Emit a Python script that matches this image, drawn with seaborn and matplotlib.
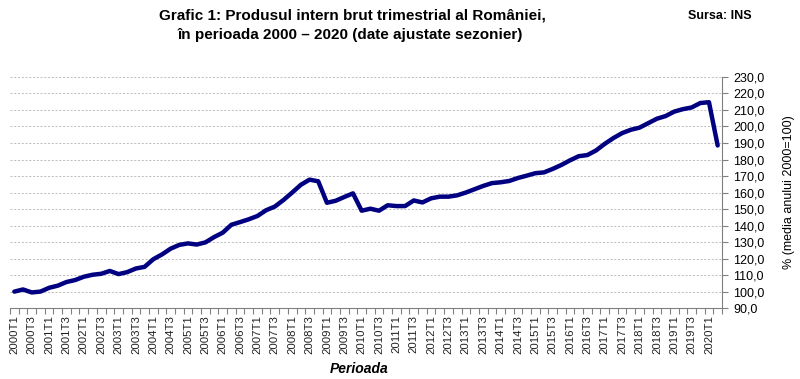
import numpy as np
import pandas as pd
import seaborn as sns
import matplotlib.pyplot as plt
from matplotlib.ticker import FuncFormatter, MultipleLocator, FixedLocator

# Quarterly GDP, seasonally adjusted (% of the 2000 average)
years = list(range(2000, 2021))
quarters = [f"{y}T{q}" for y in years for q in range(1, 5)][:82]
pib = [100.0, 101.3, 99.5, 100.0,
       102.3, 103.6, 105.8, 107.0,
       109.0, 110.2, 110.8, 112.5,
       110.6, 111.8, 114.0, 115.0,
       119.6, 122.5, 126.0, 128.3,
       129.2, 128.5, 129.8, 133.0,
       135.7, 140.5, 142.1, 143.8,
       145.8, 149.3, 151.5, 155.5,
       160.0, 164.7, 167.8, 166.8,
       153.8, 155.0, 157.3, 159.5,
       149.0, 150.2, 149.0, 152.3,
       151.8, 151.8, 155.2, 154.0,
       156.5, 157.5, 157.5, 158.3,
       160.0, 162.0, 164.0, 165.7,
       166.2, 167.0, 168.8, 170.2,
       171.7, 172.2, 174.3, 176.7,
       179.5, 182.0, 182.7, 185.5,
       189.5, 193.0, 196.0, 198.0,
       199.3, 202.0, 204.7, 206.3,
       209.0, 210.5, 211.5, 214.2,
       214.7, 188.5]

df = pd.DataFrame({"pos": np.arange(len(quarters)), "trimestru": quarters, "pib": pib})

sns.set_style("white")
plt.rcParams['font.family'] = ['Liberation Sans', 'DejaVu Sans']
plt.rcParams['text.color'] = 'black'
plt.rcParams['axes.labelcolor'] = 'black'
plt.rcParams['ytick.labelcolor'] = 'black'

fig = plt.figure(figsize=(8, 3.79), dpi=100)
ax = fig.add_axes([0.0125, 0.187, 0.89, 0.61])

sns.lineplot(data=df, x="pos", y="pib", ax=ax, color="#000080", linewidth=3.2)

ax.set_xlim(-0.5, len(quarters) - 0.5)
ax.set_ylim(90, 230)

# y axis on the right
ax.yaxis.tick_right()
ax.yaxis.set_label_position("right")
ax.yaxis.set_major_locator(MultipleLocator(10))
ax.yaxis.set_major_formatter(FuncFormatter(lambda v, p: f"{v:.1f}".replace(".", ",")))
ax.tick_params(axis="y", which="major", direction="out", length=4, width=0.8,
               color="#808080", labelsize=9, pad=4, right=True, left=False)
ax.grid(axis="y", color="#b4b4b4", linestyle=(0, (2.5, 2)), linewidth=0.6)
ax.set_ylabel("% (media anului 2000=100)", fontsize=9, labelpad=13)

# x axis: labels every two quarters, tick marks on category boundaries
ax.xaxis.set_major_locator(FixedLocator(df["pos"][::2]))
ax.set_xticklabels(df["trimestru"][::2], rotation=90, fontsize=8.2, color="#202020")
ax.xaxis.set_minor_locator(FixedLocator(np.arange(-0.5, len(quarters), 1)))
ax.tick_params(axis="x", which="major", length=0, pad=5)
ax.tick_params(axis="x", which="minor", direction="out", length=4, width=0.8,
               color="#808080", bottom=True)
ax.set_xlabel("")

for side in ["top", "left"]:
    ax.spines[side].set_visible(False)
for side in ["bottom", "right"]:
    ax.spines[side].set_color("#808080")
    ax.spines[side].set_linewidth(0.8)

fig.text(0.449, 0.027, "Perioada", ha="center", va="center", fontsize=10,
         fontweight="bold", fontstyle="italic")

fig.text(0.441, 0.958, "Grafic 1: Produsul intern brut trimestrial al României,",
         ha="center", va="center", fontsize=11, fontweight="bold")
fig.text(0.438, 0.908, "în perioada 2000 – 2020 (date ajustate sezonier)",
         ha="center", va="center", fontsize=11, fontweight="bold")
fig.text(0.90, 0.958, "Sursa: INS", ha="center", va="center", fontsize=9,
         fontweight="bold")

fig.savefig("out.png", dpi=100)
